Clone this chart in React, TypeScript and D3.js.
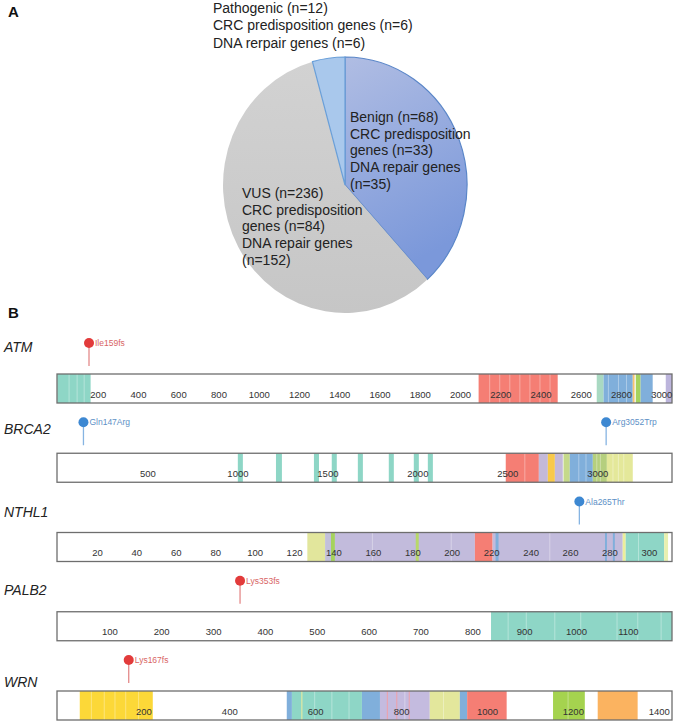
import React from "react";
import * as d3 from "d3";

// ---------- Panel A data ----------
const pieCategories = ["Benign", "VUS", "Pathogenic"];
// share of the circle as drawn in the figure (clockwise from 12 o'clock)
const pieShares = [38.2, 57.5, 4.3];
const pieColors = ["url(#benignGrad)", "url(#vusGrad)", "#a9c8ec"];
const benignText = ["Benign (n=68)", "CRC predisposition", "genes (n=33)", "DNA repair genes", "(n=35)"];
const vusText = ["VUS (n=236)", "CRC predisposition", "genes (n=84)", "DNA repair genes", "(n=152)"];
const pathogenicText = ["Pathogenic (n=12)", "CRC predisposition genes (n=6)", "DNA rerpair genes (n=6)"];

// ---------- Panel B data ----------
const genes = ["ATM", "BRCA2", "NTHL1", "PALB2", "WRN"];
const proteinLengths = [3056, 3418, 312, 1186, 1432];
const tickValues = [
  [200, 400, 600, 800, 1000, 1200, 1400, 1600, 1800, 2000, 2200, 2400, 2600, 2800, 3000],
  [500, 1000, 1500, 2000, 2500, 3000],
  [20, 40, 60, 80, 100, 120, 140, 160, 180, 200, 220, 240, 260, 280, 300],
  [100, 200, 300, 400, 500, 600, 700, 800, 900, 1000, 1100],
  [200, 400, 600, 800, 1000, 1200, 1400],
];
// [start, end, color]
const atmDomains: [number, number, string][] = [
  [1, 167, "#8ed6c6"],
  [2095, 2488, "#f57e74"],
  [2682, 2716, "#a9d9c2"],
  [2716, 2861, "#80afdb"],
  [2861, 2870, "#f6c370"],
  [2876, 2900, "#a5d25e"],
  [2900, 2960, "#80afdb"],
  [3025, 3056, "#bcb5dc"],
];
const brca2Domains: [number, number, string][] = [
  [1005, 1033, "#8ed6c6"],
  [1217, 1250, "#8ed6c6"],
  [1428, 1456, "#8ed6c6"],
  [1527, 1555, "#8ed6c6"],
  [1672, 1700, "#8ed6c6"],
  [1844, 1872, "#8ed6c6"],
  [1983, 2011, "#8ed6c6"],
  [2061, 2089, "#8ed6c6"],
  [2494, 2678, "#f57e74"],
  [2678, 2728, "#c4b9d9"],
  [2728, 2767, "#f8c94a"],
  [2767, 2811, "#c4b9d9"],
  [2815, 2850, "#c5d98a"],
  [2850, 2978, "#80afdb"],
  [2978, 3056, "#b5cf7e"],
  [3056, 3200, "#e4e89a"],
];
const nthl1Domains: [number, number, string][] = [
  [127, 136, "#e2e69c"],
  [136, 139, "#c2c0da"],
  [139, 141, "#a5d25e"],
  [141, 212, "#c2bbdc"],
  [182, 183.5, "#b8d86a"],
  [212, 221, "#f57e74"],
  [221, 287, "#c2bbdc"],
  [222.5, 224, "#80afdb"],
  [278, 279, "#80afdb"],
  [282, 283, "#80afdb"],
  [287, 288.5, "#ecee9c"],
  [288.5, 308, "#8ed6c6"],
  [308, 310, "#e8f0b0"],
];
const palb2Domains: [number, number, string][] = [
  [837, 1186, "#8ed6c6"],
];
const wrnDomains: [number, number, string][] = [
  [53, 223, "#fcd838"],
  [535, 547, "#80afdb"],
  [547, 710, "#8ed6c6"],
  [569, 571, "#f2ec9a"],
  [710, 752, "#80afdb"],
  [752, 868, "#c4bbdf"],
  [768, 770, "#f0a0a8"],
  [790, 792, "#f0a0a8"],
  [819, 821, "#f0a0a8"],
  [868, 938, "#e3e79c"],
  [938, 955, "#80afdb"],
  [955, 1047, "#f57e74"],
  [1155, 1229, "#a5d34f"],
  [1259, 1352, "#fbb360"],
];
const geneDomains = [atmDomains, brca2Domains, nthl1Domains, palb2Domains, wrnDomains];
// lighter vertical lines seen inside domains
const stripeLines = [
  [60, 100, 135, 2150, 2200, 2250, 2300, 2350, 2400, 2450, 2740, 2790, 2830],
  [2600, 2900, 2940, 3000, 3020, 3090, 3120, 3150],
  [160, 200, 250, 295],
  [870, 905, 960, 1010, 1080, 1120, 1165],
  [80, 110, 135, 160, 190, 600, 640, 680, 810, 900, 1190],
];
const mutationNames = ["Ile159fs", "Gln147Arg|Arg3052Trp", "Ala265Thr", "Lys353fs", "Lys167fs"];
const mutationPositions = [[159], [147, 3052], [265], [353], [167]];
const mutationTypes = ["frameshift", "missense", "missense", "frameshift", "frameshift"];

const FONT = "Liberation Sans, Arial, Helvetica, sans-serif";

export default function App() {
  const cx = 345, cy = 185, rx = 122, ry = 128;
  const pieGen = d3.pie<number>().sort(null).startAngle(0).endAngle(2 * Math.PI);
  const arcs = pieGen(pieShares);
  const arcGen = d3.arc<d3.PieArcDatum<number>>().innerRadius(0).outerRadius(rx);
  const strokes = ["#5a86c8", "none", "#6a9fd8"];

  const x0 = 57, x1 = 672;
  const rowY = d3.scaleLinear().domain([0, 4]).range([374, 691]);
  const barH = 29;
  const geneLabelOffset = [-22, -19, -16, -17, -4];

  return (
    <svg width={680} height={723} style={{ position: "absolute", left: 0, top: 0, background: "#fff" }} fontFamily={FONT}>
      <defs>
        <linearGradient id="benignGrad" x1="0" y1="0" x2="0.3" y2="1">
          <stop offset="0%" stopColor="#b0bde3" />
          <stop offset="100%" stopColor="#7b98da" />
        </linearGradient>
        <linearGradient id="vusGrad" x1="0" y1="0" x2="0" y2="1">
          <stop offset="0%" stopColor="#d2d2d2" />
          <stop offset="100%" stopColor="#c6c6c6" />
        </linearGradient>
      </defs>
      <text x={8} y={17} fontSize={15} fontWeight="bold" fill="#111">A</text>
      <text x={8} y={318} fontSize={15} fontWeight="bold" fill="#111">B</text>

      {/* Pie */}
      <g transform={`translate(${cx},${cy}) scale(1,${ry / rx})`}>
        {arcs.map((a, i) => (
          <path key={pieCategories[i]} d={arcGen(a) || ""} fill={pieColors[i]}
            stroke={strokes[i]} strokeWidth={1.2} vectorEffect="non-scaling-stroke" />
        ))}
      </g>
      <g fontSize={14} fill="#222">
        {pathogenicText.map((t, i) => (
          <text key={t} x={213} y={13 + i * 17.3}>{t}</text>
        ))}
        {benignText.map((t, i) => (
          <text key={t} x={350} y={122 + i * 16.7}>{t}</text>
        ))}
        {vusText.map((t, i) => (
          <text key={t} x={242} y={198 + i * 16.7}>{t}</text>
        ))}
      </g>

      {/* Protein tracks */}
      {genes.map((g, gi) => {
        const top = rowY(gi);
        const xs = d3.scaleLinear().domain([0, proteinLengths[gi]]).range([x0, x1]);
        const names = mutationNames[gi].split("|");
        const isFs = mutationTypes[gi] === "frameshift";
        const dotColor = isFs ? "#e23b3b" : "#3d88d2";
        const stemColor = isFs ? "#e48a8a" : "#86b4e2";
        const labelColor = isFs ? "#d86464" : "#5d90c6";
        return (
          <g key={g}>
            <text x={4} y={top + geneLabelOffset[gi]} fontSize={14} fontStyle="italic" fill="#222">{g}</text>
            <rect x={x0} y={top} width={x1 - x0} height={barH} fill="#fff" />
            {geneDomains[gi].map((d, di) => (
              <rect key={di} x={xs(d[0])} y={top} width={Math.max(1, xs(d[1]) - xs(d[0]))} height={barH} fill={d[2]} />
            ))}
            {stripeLines[gi].map((s, si) => {
              const inside = geneDomains[gi].some((d) => s > d[0] && s < d[1]);
              return inside ? (
                <line key={si} x1={xs(s)} x2={xs(s)} y1={top} y2={top + barH} stroke="#ffffff" strokeOpacity={0.35} strokeWidth={1} />
              ) : null;
            })}
            <rect x={x0} y={top} width={x1 - x0} height={barH} fill="none" stroke="#6e6e6e" strokeWidth={1.3} />
            {tickValues[gi].map((t) => (
              <text key={t} x={xs(t) + 1} y={top + 23.5} fontSize={9.5} textAnchor="middle" fill="#333">{t}</text>
            ))}
            {mutationPositions[gi].map((p, pi) => (
              <g key={p}>
                <line x1={xs(p)} x2={xs(p)} y1={top - 31} y2={top - 8} stroke={stemColor} strokeWidth={1.3} />
                <circle cx={xs(p)} cy={top - 31} r={5} fill={dotColor} />
                <text x={xs(p) + 6} y={top - 28} fontSize={8.5} fill={labelColor}>{names[pi]}</text>
              </g>
            ))}
          </g>
        );
      })}
    </svg>
  );
}
